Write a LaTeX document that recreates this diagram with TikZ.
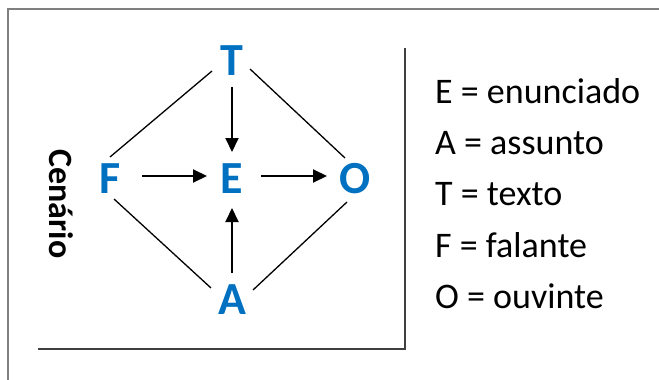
\documentclass[tikz,border=0pt]{standalone}
\usepackage{fontspec}
\setmainfont{Carlito}
\usetikzlibrary{arrows.meta}
\definecolor{letterblue}{HTML}{0070C0}
\definecolor{framegray}{HTML}{7F7F7F}
\definecolor{rulegray}{HTML}{404040}
\tikzset{
  role/.style={font=\bfseries\fontsize{46}{46}\selectfont, text=letterblue,
    inner sep=0pt, text height=30pt, text depth=0pt, anchor=center},
  link/.style={line width=1.3pt, black},
  flow/.style={line width=2pt, black, -{Triangle[length=14pt,width=13pt]}},
  legend/.style={font=\fontsize{36}{36}\selectfont, anchor=base west, inner sep=0pt},
}
\begin{document}
\begin{tikzpicture}[x=1pt,y=-1pt]
  \useasboundingbox (0,0) rectangle (659,380);
  % outer frame (only top and left edges fall inside the page)
  \draw[framegray, line width=2pt] (7.5,400) -- (7.5,8.5) -- (680,8.5);
  % scenario rules
  \draw[rulegray, line width=1.5pt] (405,48) -- (405,349) -- (38,349);

  % the five elements
  \node[role] (T) at (232,60)  {T};
  \node[role] (E) at (232,178) {E};
  \node[role] (F) at (110,178) {F};
  \node[role] (O) at (355,178) {O};
  \node[role] (A) at (232,299) {A};

  % diamond edges
  \draw[link] ([shift={(-20,11)}]T.center) -- ([shift={(0,-21)}]F.center);
  \draw[link] ([shift={(18,9)}]T.center) -- ([shift={(-10,-20)}]O.center);
  \draw[link] ([shift={(4,21)}]F.center) -- ([shift={(-21,-11)}]A.center);
  \draw[link] ([shift={(-8,24)}]O.center) -- ([shift={(21,-9)}]A.center);

  % arrows into and out of E
  \draw[flow] ([shift={(0,27)}]T.center) -- ([shift={(0,-26)}]E.center);
  \draw[flow] ([shift={(32,-2)}]F.center) -- ([shift={(-25,-2)}]E.center);
  \draw[flow] ([shift={(29,-2)}]E.center) -- ([shift={(-28,-2)}]O.center);
  \draw[flow] ([shift={(0,-26)}]A.center) -- ([shift={(0,30)}]E.center);

  % scenario label
  \node[font=\bfseries\fontsize{34}{34}\selectfont, rotate=-90, inner sep=0pt] (cen) at (61,204) {Cenário};

  % legend
  \node[legend] (lE) at (435,103) {E = enunciado};
  \node[legend] (lA) at (435,154) {A = assunto};
  \node[legend] (lT) at (435,205) {T = texto};
  \node[legend] (lF) at (435,257) {F = falante};
  \node[legend] (lO) at (435,308) {O = ouvinte};
\end{tikzpicture}
\end{document}
